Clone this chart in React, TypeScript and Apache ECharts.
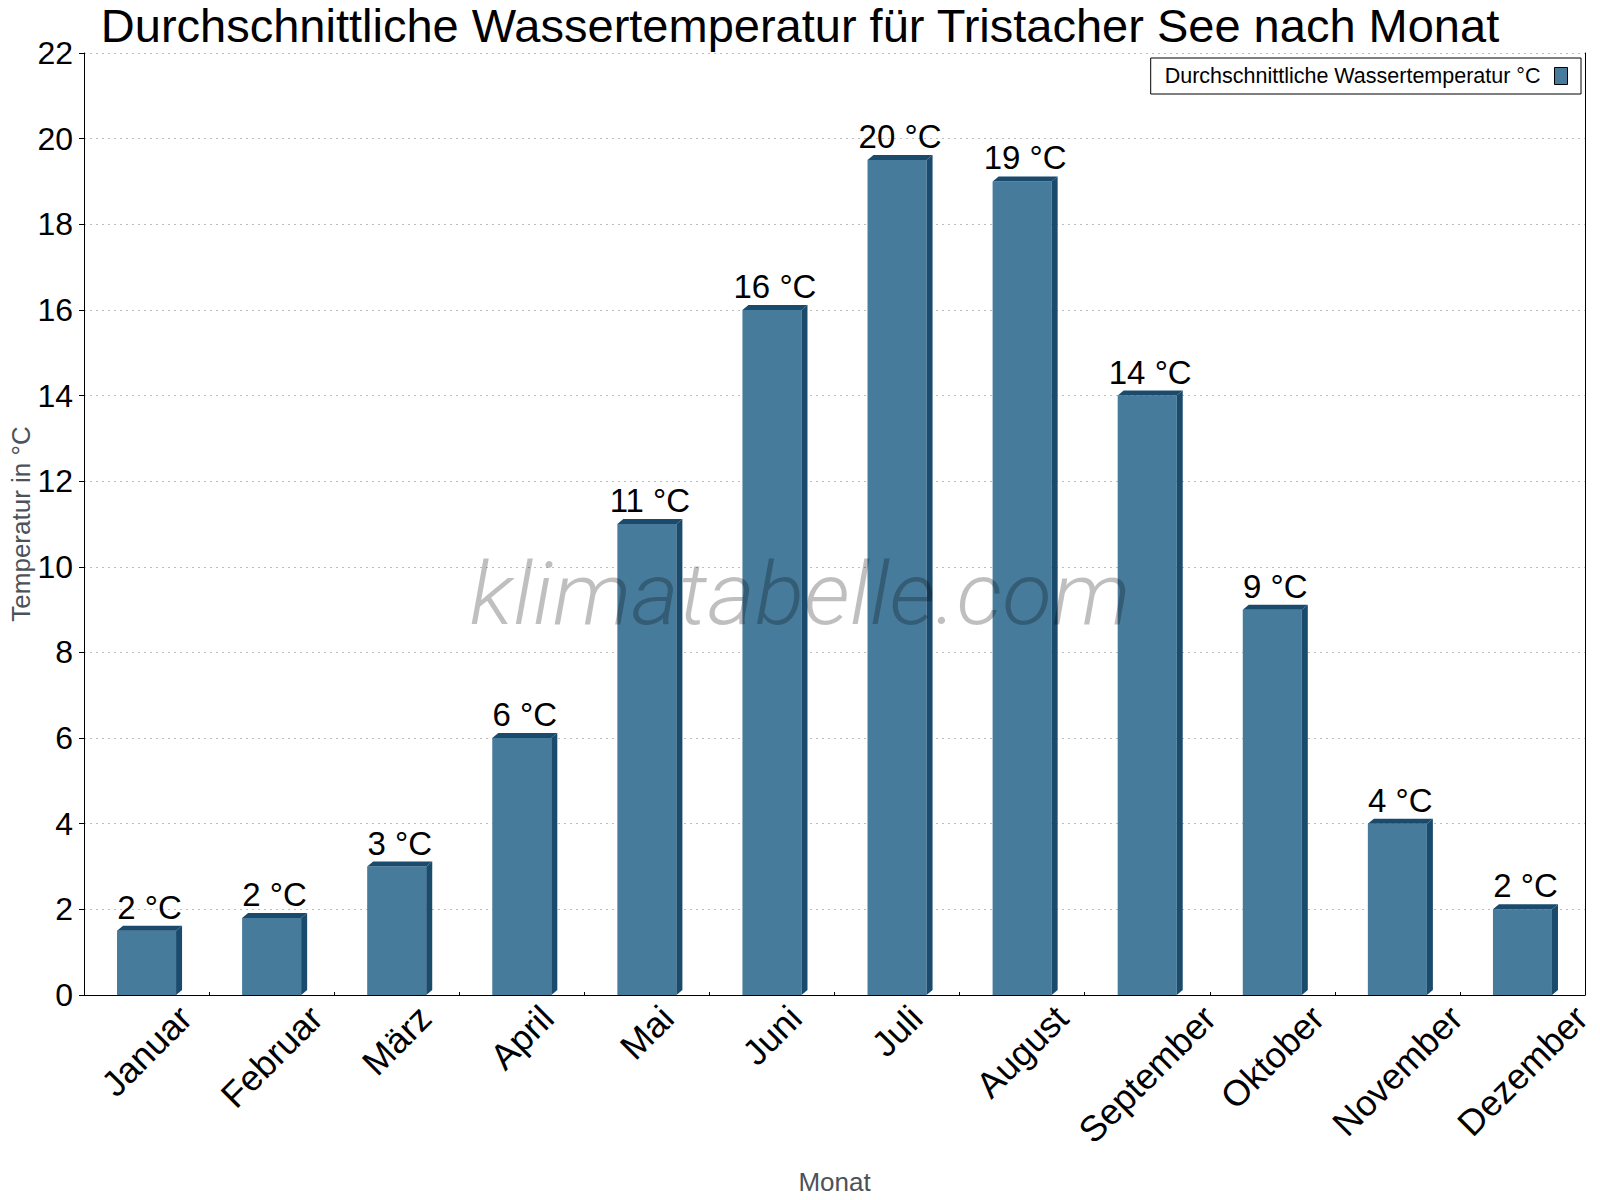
import React, { useEffect, useRef } from "react";
import * as echarts from "echarts";

const months = [
  "Januar", "Februar", "März", "April", "Mai", "Juni",
  "Juli", "August", "September", "Oktober", "November", "Dezember",
];
const waterTemp = [1.5, 1.8, 3, 6, 11, 16, 19.5, 19, 14, 9, 4, 2];
const yMin = 0;
const yMax = 22;
const yInterval = 2;
const unit = "°C";
const titleText = "Durchschnittliche Wassertemperatur für Tristacher See nach Monat";
const seriesName = "Durchschnittliche Wassertemperatur °C";
const yAxisName = "Temperatur in °C";
const xAxisName = "Monat";
const watermarkText = "klimatabelle.com";

const FONT = "'Liberation Sans', Arial, Helvetica, sans-serif";
const FRONT = "#467b9c";
const DARK = "#1a4a6c";
const NAME_COLOR = "#4b5259";
const XLABEL_SIZE = 36;
const BAR_LABEL_SIZE = 33;
const YLABEL_SIZE = 32;

function measure(text: string, size: number): number {
  const c = document.createElement("canvas");
  const ctx = c.getContext("2d");
  if (!ctx) return text.length * size * 0.55;
  ctx.font = `${size}px 'Liberation Sans', Arial, sans-serif`;
  return ctx.measureText(text).width;
}

export default function App() {
  const ref = useRef<HTMLDivElement>(null);

  useEffect(() => {
    document.body.style.margin = "0";
    if (!ref.current) return;
    const chart = echarts.init(ref.current, undefined, { renderer: "svg" });

    // per-label rich styles: keep the top of each rotated label at the same distance below the axis
    const rich: Record<string, any> = {};
    months.forEach((m, i) => {
      const half = measure(m, XLABEL_SIZE) * 0.5;
      rich["p" + i] = {
        fontSize: XLABEL_SIZE,
        fontFamily: FONT,
        color: "#000",
        padding: [half, half, 0, 0],
      };
    });

    const depthX = 6;
    const depthY = 5;

    const option: any = {
      animation: false,
      backgroundColor: "#fff",
      title: {
        text: titleText,
        left: "center",
        top: 2,
        padding: 0,
        textStyle: { fontSize: 47, fontWeight: "normal", color: "#000", fontFamily: FONT },
      },
      legend: {
        data: [seriesName],
        right: 19,
        top: 58,
        align: "right",
        icon: "rect",
        itemWidth: 13,
        itemHeight: 17,
        borderColor: "#000",
        borderWidth: 1,
        borderRadius: 0,
        padding: [7, 13, 7, 14],
        itemStyle: { borderColor: "#000", borderWidth: 1 },
        textStyle: { fontSize: 21.5, color: "#000", fontFamily: FONT, padding: [0, 9, 0, 0] },
      },
      grid: {
        left: 84,
        right: 15,
        top: 53,
        bottom: 205,
        containLabel: false,
        outerBoundsMode: "none",
      },
      xAxis: {
        type: "category",
        data: months,
        boundaryGap: true,
        name: xAxisName,
        nameLocation: "middle",
        nameGap: 174,
        nameMoveOverlap: false,
        nameTextStyle: { fontSize: 26, color: NAME_COLOR, fontFamily: FONT },
        axisLine: { show: true, lineStyle: { color: "#000", width: 1 } },
        axisTick: { show: true, inside: true, length: 3, lineStyle: { color: "#000" } },
        axisLabel: {
          rotate: 45,
          interval: 0,
          margin: 17,
          align: "center",
          verticalAlign: "middle",
          fontSize: XLABEL_SIZE,
          fontFamily: FONT,
          color: "#000",
          formatter: (v: string, i: number) => `{p${i}|${v}}`,
          rich,
        },
        splitLine: { show: false },
      },
      yAxis: [
        {
          type: "value",
          min: yMin,
          max: yMax,
          interval: yInterval,
          name: yAxisName,
          nameLocation: "middle",
          nameGap: 50,
          nameRotate: 90,
          nameMoveOverlap: false,
          nameTextStyle: { fontSize: 26, color: NAME_COLOR, fontFamily: FONT },
          axisLine: { show: true, lineStyle: { color: "#000", width: 1 } },
          axisTick: { show: true, length: 5, lineStyle: { color: "#000" } },
          axisLabel: { fontSize: YLABEL_SIZE, color: "#000", fontFamily: FONT, margin: 11 },
          splitLine: { show: true, lineStyle: { color: "#bdbdbd", type: [2, 4], width: 1 } },
        },
        {
          type: "value",
          position: "right",
          min: yMin,
          max: yMax,
          interval: yInterval,
          axisLine: { show: true, lineStyle: { color: "#000", width: 1 } },
          axisTick: { show: false },
          axisLabel: { show: false },
          splitLine: { show: false },
        },
      ],
      graphic: [
        {
          type: "text",
          x: 800,
          y: 594,
          scaleX: 1.05,
          z: 100,
          silent: true,
          style: {
            text: watermarkText,
            fontSize: 87,
            fontStyle: "italic",
            fontWeight: 300,
            fontFamily: "Roboto",
            fill: "rgba(0,0,0,0.25)",
            align: "center",
            verticalAlign: "middle",
          },
        },
      ],
      series: [
        {
          name: seriesName,
          type: "custom",
          xAxisIndex: 0,
          yAxisIndex: 0,
          itemStyle: { color: FRONT },
          encode: { x: 0, y: 1 },
          data: waterTemp.map((v, i) => [i, v]),
          renderItem: (params: any, api: any) => {
            const idx = api.value(0);
            const val = api.value(1);
            const top = api.coord([idx, val]);
            const base = api.coord([idx, 0]);
            const bw = api.size([1, 0])[0] * 0.472;
            const x0 = top[0] - bw / 2;
            const x1 = top[0] + bw / 2;
            const ty = top[1];
            const by = base[1];
            return {
              type: "group",
              children: [
                {
                  type: "rect",
                  shape: { x: x0, y: ty, width: bw, height: by - ty },
                  style: { fill: FRONT },
                },
                {
                  type: "polygon",
                  shape: { points: [[x0, ty], [x0 + depthX, ty - depthY], [x1 + depthX, ty - depthY], [x1, ty]] },
                  style: { fill: DARK },
                },
                {
                  type: "polygon",
                  shape: { points: [[x1, ty], [x1 + depthX, ty - depthY], [x1 + depthX, by - depthY], [x1, by]] },
                  style: { fill: DARK },
                },
                {
                  type: "text",
                  x: top[0] + depthX / 2,
                  y: ty - 7,
                  style: {
                    text: `${Math.round(val)} ${unit}`,
                    fontSize: BAR_LABEL_SIZE,
                    fontFamily: FONT,
                    fill: "#000",
                    align: "center",
                    verticalAlign: "bottom",
                  },
                },
              ],
            };
          },
        },
      ],
    };

    chart.setOption(option);
    return () => chart.dispose();
  }, []);

  return <div ref={ref} style={{ width: 1600, height: 1200 }} />;
}
